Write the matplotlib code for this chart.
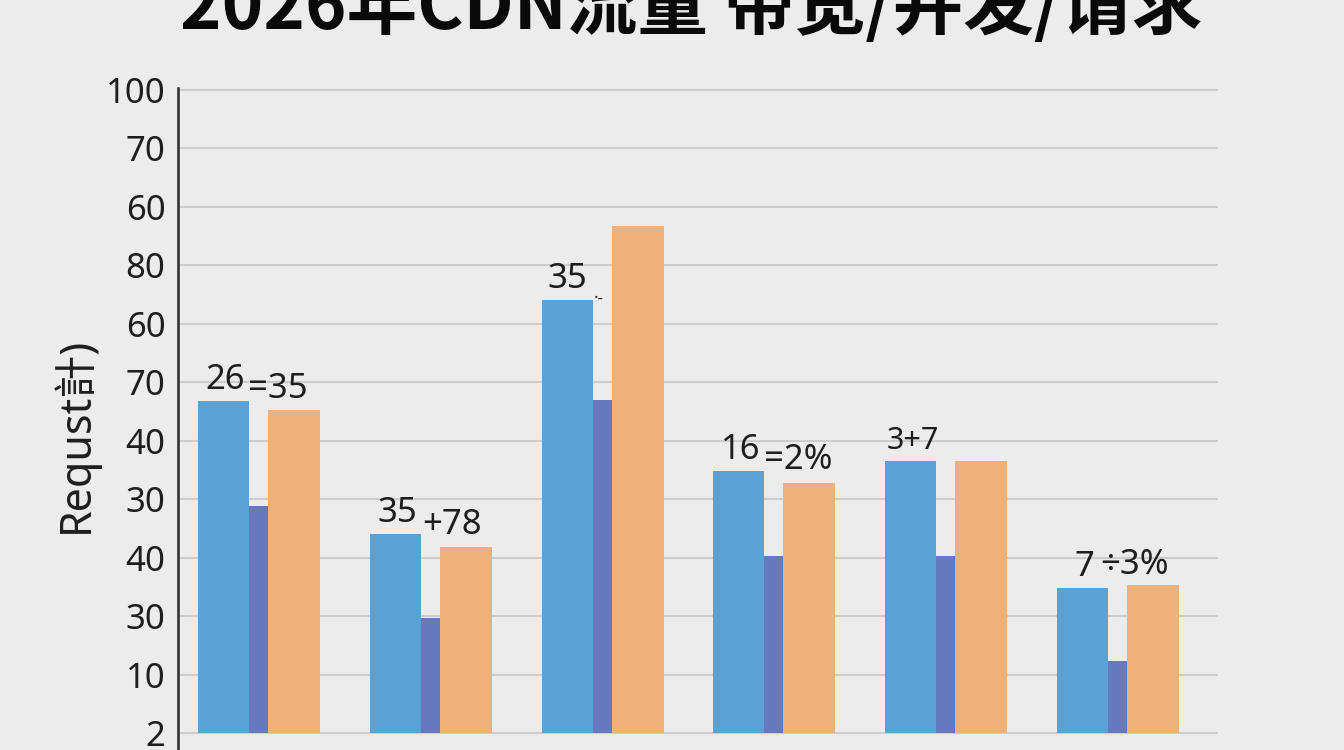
import matplotlib
matplotlib.use("Agg")
import matplotlib.pyplot as plt
import numpy as np

# ---- data (values on the chart's internal axis scale, 0..110) ----
groups = ["G1", "G2", "G3", "G4", "G5", "G6"]
series_a = [56.8, 34.0, 74.1, 44.8, 46.5, 24.8]   # light blue
series_b = [38.8, 19.7, 57.0, 30.3, 30.3, 12.3]   # slate blue (narrow)
series_c = [55.3, 31.8, 86.7, 42.8, 46.5, 25.3]   # orange
label_a = ["26", "35", "35", "16", "3+7", "7"]
label_b = ["=35", "+78", "·-", "=2%", "", "÷3%"]
ytick_pos = [0, 10, 20, 30, 40, 50, 60, 70, 80, 90, 100, 110]
ytick_labels = ["2", "10", "30", "40", "30", "40", "70", "60", "80", "60", "70", "100"]
title = "2026年CDN流量 带宽/并发/请求"
ylabel = "Requst計)"

# ---- style ----
W, H = 1344, 750
bg = "#ECECED"
c_a, c_b, c_c = "#5AA2D3", "#6679BE", "#EEB17A"
txt = "#1E1E1E"
fam = ["Noto Sans", "Noto Sans CJK SC", "DejaVu Sans"]
plt.rcParams["font.family"] = fam

fig = plt.figure(figsize=(W / 100, H / 100), dpi=100, facecolor=bg)

px_per_unit = 643 / 110.0
top_px, left_px, right_px = 87, 178, 1218
ax = fig.add_axes([left_px / W, 0, (right_px - left_px) / W, 1 - top_px / H])
ax.set_facecolor(bg)
ylo = -(750 - 733) / px_per_unit
yhi = 110 + (733 - 643 - top_px) / px_per_unit
ax.set_ylim(ylo, yhi)

gp = 171.8
x = np.arange(len(groups))
ax.set_xlim((left_px - 198) / gp, (right_px - 198) / gp)
wa, wb, wc = 51 / gp, 19 / gp, 52 / gp
ax.bar(x, series_a, width=wa, align="edge", color=c_a, zorder=3)
ax.bar(x + wa, series_b, width=wb, align="edge", color=c_b, zorder=3)
ax.bar(x + wa + wb, series_c, width=wc, align="edge", color=c_c, zorder=3)

ax.set_yticks(ytick_pos)
ax.set_yticklabels(ytick_labels)
ax.tick_params(axis="y", length=0, pad=9, labelsize=25, labelcolor=txt)
ax.set_xticks([])
ax.grid(axis="y", color="#CDCDCF", linewidth=1.5, zorder=0)
for s in ["top", "right", "bottom"]:
    ax.spines[s].set_visible(False)
ax.spines["left"].set_color("#2A2A2A")
ax.spines["left"].set_linewidth(1.8)
ax.spines["left"].set_bounds(ylo, 110 + 2 / px_per_unit)

# value annotations
offs_x = [7, 8, 6, 8, 1, 17]
drops = [1, 4, 7, 2, 0, -10]
gaps = [4, 5, 6, 3, 0, 6]
for i in range(len(groups)):
    ta = ax.annotate(label_a[i], xy=(x[i], series_a[i]), xytext=(offs_x[i], 12),
                     textcoords="offset pixels", ha="left", va="baseline",
                     fontsize=25 if i != 4 else 22, color=txt, zorder=5)
    if label_b[i]:
        fs = 25 if i != 2 else 12
        ax.annotate(label_b[i], xy=(1, 0), xycoords=ta, xytext=(gaps[i], -drops[i]),
                    textcoords="offset pixels", ha="left", va="baseline",
                    fontsize=fs, color=txt, zorder=5)

# y label
fig.text(75 / W, 1 - 435 / H, ylabel, rotation=90, ha="center", va="center",
         fontsize=31, color=txt)

# title fitted to reference width
t = fig.text(691 / W, 1 - 29 / H, title, ha="center", va="baseline",
             fontsize=50, fontweight="bold", color="#0A0A0A",
             family=["Noto Sans CJK SC", "DejaVu Sans"])
fig.canvas.draw()
wpx = t.get_window_extent().width
t.set_fontsize(50 * 1023 / wpx)

fig.savefig("out.png", dpi=100, facecolor=bg)
